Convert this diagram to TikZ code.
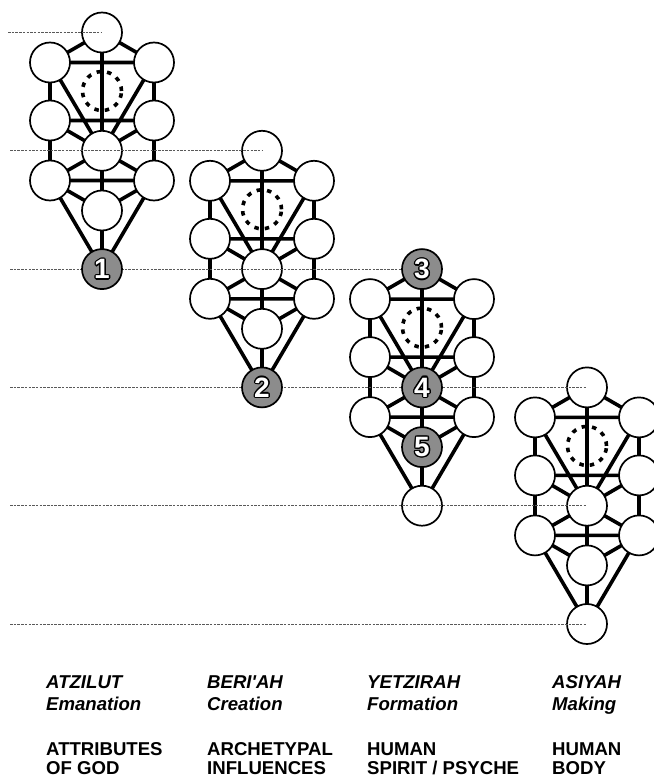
\documentclass[tikz,border=0pt]{standalone}
\usepackage{fontspec}
\setmainfont{Liberation Sans}
\pgfdeclarelayer{bg}
\pgfdeclarelayer{fg}
\pgfsetlayers{bg,main,fg}
\definecolor{numgray}{gray}{0.55}
\newcommand\numfont{\fontsize{28}{28}\selectfont\bfseries}
\newcommand\sef[4]{%
  \if\relax\detokenize{#4}\relax
    \node[sef] (#1) at (#2,#3) {};
  \else
    \begin{pgfonlayer}{fg}\def\curnum{#4}\node[sefg] (#1) at (#2,#3) {#4};\end{pgfonlayer}
  \fi}
\newcommand\tree[7]{%
  \sef{#1k}{#2}{#3}{#4}
  \sef{#1b}{#2-52}{#3+30}{}
  \sef{#1c}{#2+52}{#3+30}{}
  \sef{#1g}{#2-52}{#3+88}{}
  \sef{#1h}{#2+52}{#3+88}{}
  \sef{#1t}{#2}{#3+118.3}{#5}
  \sef{#1o}{#2-52}{#3+148}{}
  \sef{#1n}{#2+52}{#3+148}{}
  \sef{#1y}{#2}{#3+178}{#6}
  \sef{#1m}{#2}{#3+236.6}{#7}
  \node[daath] (#1d) at (#2,#3+58.5) {};
  \begin{pgfonlayer}{bg}
    \draw[treepath]
      (#1k.center) -- (#1b.center) (#1k.center) -- (#1c.center) (#1k.center) -- (#1t.center)
      (#1b.center) -- (#1c.center) (#1b.center) -- (#1t.center) (#1c.center) -- (#1t.center)
      (#1b.center) -- (#1g.center) (#1c.center) -- (#1h.center) (#1g.center) -- (#1h.center)
      (#1g.center) -- (#1t.center) (#1h.center) -- (#1t.center)
      (#1g.center) -- (#1o.center) (#1h.center) -- (#1n.center) (#1o.center) -- (#1n.center)
      (#1o.center) -- (#1t.center) (#1n.center) -- (#1t.center) (#1t.center) -- (#1y.center)
      (#1o.center) -- (#1y.center) (#1n.center) -- (#1y.center)
      (#1o.center) -- (#1m.center) (#1n.center) -- (#1m.center) (#1y.center) -- (#1m.center);
  \end{pgfonlayer}}
\begin{document}
\begin{tikzpicture}[x=1pt,y=-1pt,
  sef/.style={circle,draw=black,line width=1.7pt,fill=white,minimum size=40pt,inner sep=0pt},
  sefg/.style={sef,fill=numgray,text=white,font=\numfont,
    path picture={\foreach \a in {0,30,...,330}{\node[text=black,font=\numfont,inner sep=0pt] at ([shift={(\a:1.3pt)}]path picture bounding box.center) {\curnum};}}},
  treepath/.style={draw=black,line width=3.6pt},
  daath/.style={circle,draw=black,line width=3.6pt,dash pattern=on 4.5pt off 6pt,minimum size=39pt,inner sep=0pt},
  guide/.style={draw=black!65,line width=0.7pt,dash pattern=on 2.5pt off 1.2pt},
  world/.style={anchor=base west,inner sep=0pt,font=\fontsize{18.6}{22}\selectfont\bfseries\itshape},
  realm/.style={anchor=base west,inner sep=0pt,font=\fontsize{18.6}{22}\selectfont\bfseries}]
\useasboundingbox (0,0) rectangle (653,778);
\tree{a}{102}{32.5}{}{}{}{1}
\tree{r}{262}{150.8}{}{}{}{2}
\tree{y}{422}{269.1}{3}{4}{5}{}
\tree{s}{587}{387.4}{}{}{}{}
% guide lines
\coordinate (L1) at (8,32.5);
\coordinate (L2) at (10,150.8);
\coordinate (L3) at (10,269.1);
\coordinate (L4) at (10,387.4);
\coordinate (L5) at (10,505.7);
\coordinate (L6) at (10,624);
\draw[guide] (L1) -- (ak.center);
\draw[guide] (L2) -- (rk.center);
\draw[guide] (L3) -- (yk.center);
\draw[guide] (L4) -- (sk.center);
\draw[guide] (L5) -- (st.center);
\draw[guide] (L6) -- (sm.center);
% texts
\node[world] (w1) at (46,688) {ATZILUT};
\node[world] (w1e) at (46,710) {Emanation};
\node[world] (w2) at (207,688) {BERI\textquotesingle AH};
\node[world] (w2e) at (207,710) {Creation};
\node[world] (w3) at (367,688) {YETZIRAH};
\node[world] (w3e) at (367,710) {Formation};
\node[world] (w4) at (552,688) {ASIYAH};
\node[world] (w4e) at (552,710) {Making};
\node[realm] (d1) at (46,755) {ATTRIBUTES};
\node[realm] (d1b) at (46,774) {OF GOD};
\node[realm] (d2) at (207,755) {ARCHETYPAL};
\node[realm] (d2b) at (207,774) {INFLUENCES};
\node[realm] (d3) at (367,755) {HUMAN};
\node[realm] (d3b) at (367,774) {SPIRIT / PSYCHE};
\node[realm] (d4) at (552,755) {HUMAN};
\node[realm] (d4b) at (552,774) {BODY};
\end{tikzpicture}
\end{document}
